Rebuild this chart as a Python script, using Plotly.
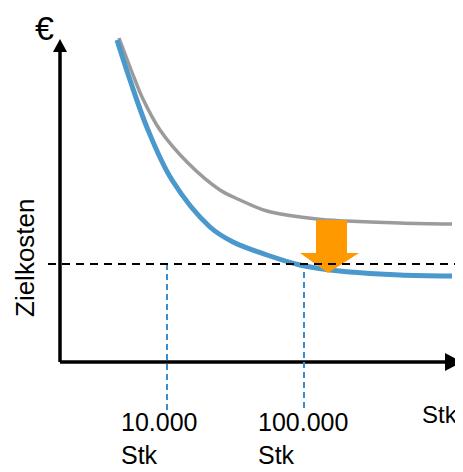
import plotly.graph_objects as go

# Data (volume units on x, cost units on y; origin at the axis corner)
gray_x = [59, 75, 82, 100, 128, 160, 180, 207, 257, 287, 340, 392]
gray_y = [324, 282, 265, 232, 199, 172, 162, 151, 143, 141, 139, 138]
blue_x = [57, 70, 88, 112, 150, 173, 207, 240, 270, 310, 340, 392]
blue_y = [322, 282, 232, 182, 135, 120, 107, 97, 92, 88.5, 87, 86]
target_cost = 98
volume_marks = [107, 244]
volume_labels = ["10.000<br>Stk", "100.000<br>Stk"]

FONT = "Liberation Sans, Arial, sans-serif"

fig = go.Figure()
fig.add_trace(go.Scatter(x=gray_x, y=gray_y, mode="lines",
                         line=dict(color="#9b9b9b", width=3.5, shape="spline", smoothing=1), hoverinfo="skip"))
fig.add_trace(go.Scatter(x=blue_x, y=blue_y, mode="lines",
                         line=dict(color="#4a98cc", width=5, shape="spline", smoothing=1), hoverinfo="skip"))

shapes = []
# axes
shapes.append(dict(type="line", x0=0, y0=0, x1=0, y1=312, line=dict(color="black", width=3.5), layer="above"))
shapes.append(dict(type="path", path="M -7,310 L 7,310 L 0,323 Z", fillcolor="black", line=dict(width=0), layer="above"))
shapes.append(dict(type="line", x0=0, y0=0, x1=390, y1=0, line=dict(color="black", width=3.5), layer="above"))
shapes.append(dict(type="path", path="M 385,9 L 385,-9 L 402,0 Z", fillcolor="black", line=dict(width=0), layer="above"))
# orange arrow
shapes.append(dict(type="path", path="M 256,142 L 287,142 L 287,109 L 299,109 L 268,89 L 240,109 L 256,109 Z",
                   fillcolor="#ff9900", line=dict(width=0), layer="above"))
# vertical dashed lines
shapes.append(dict(type="line", x0=volume_marks[0], y0=target_cost, x1=volume_marks[0], y1=-48,
                   line=dict(color="#3a8ccc", width=2, dash="6px,4px"), layer="above"))
shapes.append(dict(type="line", x0=volume_marks[1], y0=90, x1=volume_marks[1], y1=-48,
                   line=dict(color="#3a8ccc", width=2, dash="6px,4px"), layer="above"))
# target cost dashed line
shapes.append(dict(type="line", x0=-12, y0=target_cost, x1=395, y1=target_cost,
                   line=dict(color="black", width=2, dash="8px,6px"), layer="above"))
fig.update_layout(shapes=shapes)

ann = []
for xv, lab in zip(volume_marks, volume_labels):
    ann.append(dict(x=xv - 48, y=-44, xref="x", yref="y", text=lab, showarrow=False,
                    xanchor="left", yanchor="top", align="left", font=dict(family=FONT, size=25, color="black")))
ann.append(dict(x=360, y=-37, xref="x", yref="y", text="Stk", showarrow=False, xanchor="left", yanchor="top",
                font=dict(family=FONT, size=24, color="black")))
ann.append(dict(x=-16, y=334, xref="x", yref="y", text="€", showarrow=False, xanchor="center", yanchor="middle",
                font=dict(family=FONT, size=34, color="black")))
ann.append(dict(x=-35, y=104, xref="x", yref="y", text="Zielkosten", showarrow=False, textangle=-90,
                xanchor="center", yanchor="middle", font=dict(family=FONT, size=26, color="black")))
fig.update_layout(annotations=ann)

# the page adds an 8px body margin, so the figure is drawn 8px smaller
fig.update_layout(
    width=455, height=464, margin=dict(l=0, r=0, t=0, b=0),
    paper_bgcolor="white", plot_bgcolor="white", showlegend=False,
    xaxis=dict(range=[-52, 403], visible=False, fixedrange=True),
    yaxis=dict(range=[-110, 354], visible=False, fixedrange=True),
)
fig.write_html("out.html")
